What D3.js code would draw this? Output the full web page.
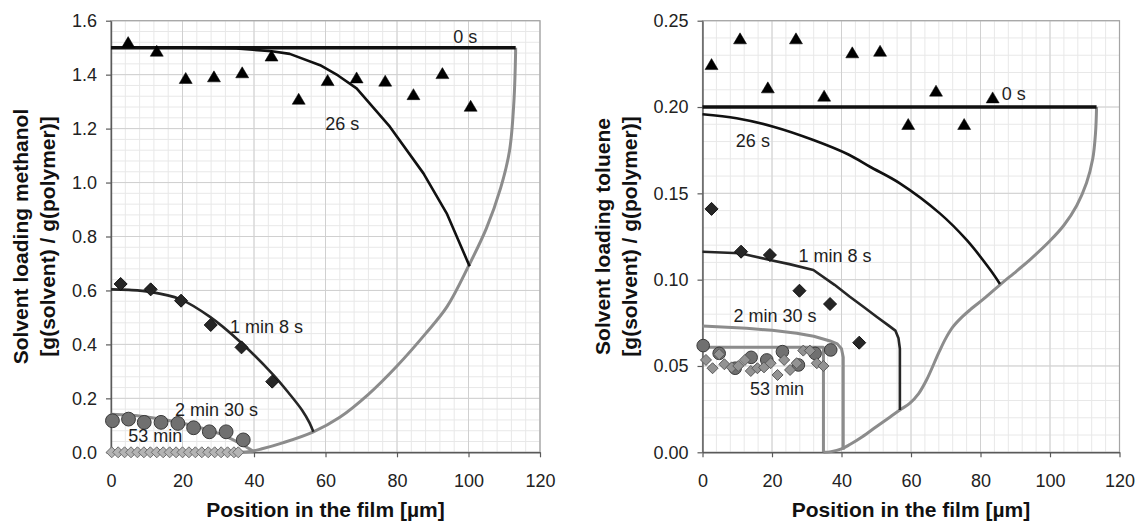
<!DOCTYPE html>
<html>
<head>
<meta charset="utf-8">
<script src="https://cdn.jsdelivr.net/npm/d3@7"></script>
<style>
  body { margin: 0; background: #fff; }
  text { font-family: "Liberation Sans", Arial, sans-serif; }
</style>
</head>
<body>
<div id="chart"></div>
<script>
// ---- data ----
var xTicks = [0, 20, 40, 60, 80, 100, 120];
var methanolYTicks = [0, 0.2, 0.4, 0.6, 0.8, 1.0, 1.2, 1.4, 1.6];
var tolueneYTicks = [0, 0.05, 0.10, 0.15, 0.20, 0.25];

// methanol (left panel)
var mTri = [[4.8, 1.517], [12.8, 1.485], [20.9, 1.384], [28.8, 1.39], [36.7, 1.405], [44.9, 1.467],
            [52.5, 1.307], [60.6, 1.376], [68.7, 1.386], [76.7, 1.374], [84.6, 1.324], [92.7, 1.402], [100.6, 1.281]];
var mDia1 = [[2.7, 0.624], [11.1, 0.604], [19.6, 0.562], [27.9, 0.472], [36.5, 0.389], [45.1, 0.262]];
var mCirc = [[0.4, 0.117], [4.9, 0.123], [9.3, 0.111], [14, 0.111], [18.7, 0.107], [23.1, 0.091],
             [27.5, 0.076], [32.2, 0.076], [37, 0.046]];
var mDia53 = [[0.2, 0], [2.0, 0], [3.8, 0], [5.6, 0], [7.4, 0], [9.2, 0], [11.0, 0], [12.8, 0], [14.6, 0],
              [16.4, 0], [18.2, 0], [20.0, 0], [21.8, 0], [23.6, 0], [25.4, 0], [27.2, 0], [29.0, 0],
              [30.8, 0], [32.6, 0], [34.4, 0], [35.6, 0]];
var m0s = [[0, 1.5], [113.2, 1.5]];
var m26s = [[0, 1.5], [20, 1.5], [35, 1.497], [45, 1.487], [50, 1.477], [58.5, 1.435], [63.5, 1.397],
            [68.7, 1.349], [78, 1.207], [87.4, 1.034], [93.9, 0.886], [100.3, 0.69]];
var m1min8 = [[0, 0.604], [5, 0.602], [10.9, 0.595], [19.3, 0.568], [27.7, 0.502], [36.1, 0.41],
              [45.4, 0.287], [50, 0.215], [53.5, 0.155], [55.5, 0.11], [56.6, 0.076]];
var m2min30 = [[0, 0.141], [5, 0.138], [10, 0.131], [15.5, 0.12], [21, 0.105], [26.7, 0.085],
               [30.5, 0.068], [34.2, 0.046], [37, 0.026], [39.8, 0.004]];
var mFront = [[36, 0], [39, 0.003], [42, 0.012], [48, 0.035], [56.6, 0.076], [64, 0.13], [72, 0.215],
              [80, 0.32], [88, 0.44], [94, 0.54], [100, 0.69], [105, 0.83], [109, 0.98], [111.5, 1.12],
              [112.7, 1.3], [113.2, 1.5]];
var mLabels = [["0 s", 95.7, 1.517], ["26 s", 59.9, 1.195], ["1 min 8 s", 33.3, 0.442],
               ["2 min 30 s", 17.9, 0.135], ["53 min", 4.8, 0.038]];

// toluene (right panel)
var tTri = [[2.6, 0.2243], [10.8, 0.2392], [18.8, 0.2108], [26.9, 0.2392], [35, 0.206], [43.1, 0.2311],
            [51.1, 0.232], [59.2, 0.1896], [67.2, 0.2089], [75.3, 0.1896], [83.5, 0.205]];
var tDia1 = [[2.6, 0.141], [11.1, 0.1162], [19.4, 0.1143], [27.9, 0.0936], [36.7, 0.0859], [45.1, 0.0635]];
var tCirc = [[0.2, 0.0618], [4.8, 0.0573], [9.4, 0.0487], [14, 0.055], [18.5, 0.0535], [23, 0.0583],
             [27.6, 0.0506], [32.4, 0.0573], [36.9, 0.0593]];
var tDia53 = [[1, 0.0535], [2.9, 0.0487], [4.8, 0.0568], [6.3, 0.051], [8.4, 0.0492], [10.3, 0.05],
              [12.2, 0.0535], [13.9, 0.0471], [15.8, 0.0487], [17.7, 0.0492], [19.6, 0.0516],
              [21.6, 0.0448], [23.5, 0.0535], [25.2, 0.0477], [27.1, 0.0516], [29, 0.0589],
              [30.9, 0.0589], [32.9, 0.0516], [34.8, 0.05]];
var t0s = [[0, 0.2], [113.4, 0.2]];
var t26s = [[0, 0.1958], [9.8, 0.1935], [20.4, 0.1886], [31.9, 0.1809], [42, 0.1725], [48.2, 0.1654],
            [56.8, 0.1558], [68.3, 0.1384], [76, 0.123], [82.7, 0.106], [85.6, 0.0975]];
var t1min8 = [[0, 0.1162], [10.8, 0.1153], [19.4, 0.1114], [25, 0.109], [31.9, 0.1056], [38, 0.097],
              [42.4, 0.0901], [46.3, 0.0843], [50.1, 0.0785], [53.5, 0.0735], [55.5, 0.0705],
              [56.4, 0.066], [56.8, 0.06], [56.8, 0.0245]];
var t2min30 = [[0, 0.0732], [12.7, 0.0718], [20, 0.0707], [27.1, 0.0689], [32, 0.0672], [36.7, 0.0645],
               [38.8, 0.0628], [40, 0.06], [40.5, 0.055], [40.5, 0.0015]];
var t53min = [[0, 0.0608], [34.8, 0.0608], [34.8, 0]];
var tFront = [[34.8, 0], [37, 0.0004], [40, 0.002], [42.4, 0.0045], [46, 0.009], [50, 0.0148],
              [54, 0.0205], [56.8, 0.0245], [59.7, 0.0285], [62.2, 0.034], [64.5, 0.042], [67.9, 0.0573],
              [70, 0.066], [72, 0.0725], [74.5, 0.078], [77, 0.0825], [81, 0.089], [85.6, 0.097],
              [90.4, 0.105], [94.2, 0.1115], [100, 0.1225], [104, 0.1315], [107.7, 0.143],
              [110.5, 0.156], [112.3, 0.17], [113.1, 0.185], [113.4, 0.2]];
var tLabels = [["0 s", 86.1, 0.204], ["26 s", 9.6, 0.177], ["1 min 8 s", 27.6, 0.1104],
               ["2 min 30 s", 8.9, 0.0757], ["53 min", 13.7, 0.0332]];

// ---- drawing ----
var svg = d3.select("#chart").append("svg")
    .attr("width", 1137)
    .attr("height", 524)
    .style("background", "#fff");

var plotTop = 20.7, plotBottom = 452.3;

// marker shapes
var triPath = "M0,-6.5L6.5,4.5L-6.5,4.5Z";
function diaPath(r) { return "M0," + (-r) + "L" + r + ",0L0," + r + "L" + (-r) + ",0Z"; }

function drawPanel(p) {
    var x = d3.scaleLinear().domain([0, 120]).range([p.left, p.right]);
    var y = d3.scaleLinear().domain([0, p.ymax]).range([plotBottom, plotTop]);
    var g = svg.append("g");

    // minor grid
    g.selectAll("line.vmin").data(d3.range(0, 121, 4)).enter().append("line")
        .attr("x1", d => x(d)).attr("x2", d => x(d)).attr("y1", plotTop).attr("y2", plotBottom)
        .attr("stroke", "#e8e8e8").attr("stroke-width", 1);
    g.selectAll("line.hmin").data(d3.range(0, p.ymax / p.yminor + 0.5, 1)).enter().append("line")
        .attr("x1", p.left).attr("x2", p.right)
        .attr("y1", d => y(d * p.yminor)).attr("y2", d => y(d * p.yminor))
        .attr("stroke", "#e8e8e8").attr("stroke-width", 1);
    // major grid
    g.selectAll("line.vmaj").data(xTicks).enter().append("line")
        .attr("x1", d => x(d)).attr("x2", d => x(d)).attr("y1", plotTop).attr("y2", plotBottom)
        .attr("stroke", "#d0d0d0").attr("stroke-width", 1);
    g.selectAll("line.hmaj").data(p.yTicks).enter().append("line")
        .attr("x1", p.left).attr("x2", p.right).attr("y1", d => y(d)).attr("y2", d => y(d))
        .attr("stroke", "#d0d0d0").attr("stroke-width", 1);

    // frame (top / right)
    g.append("rect")
        .attr("x", p.left).attr("y", plotTop)
        .attr("width", p.right - p.left).attr("height", plotBottom - plotTop)
        .attr("fill", "none").attr("stroke", "#a5a5a5").attr("stroke-width", 1.2);

    // axes (below the marks, like the original where markers sit on top)
    var yAxis = g.append("g")
        .attr("transform", "translate(" + p.left + ",0)")
        .call(d3.axisLeft(y).tickValues(p.yTicks).tickFormat(d3.format(p.fmt))
              .tickSize(5).tickSizeOuter(0).tickPadding(9));
    var xAxis = g.append("g")
        .attr("transform", "translate(0," + plotBottom + ")")
        .call(d3.axisBottom(x).tickValues(xTicks).tickSize(5).tickSizeOuter(0).tickPadding(17));
    [xAxis, yAxis].forEach(function(a) {
        a.select(".domain").attr("stroke", "#5a5a5a").attr("stroke-width", 1.4);
        a.selectAll(".tick line").attr("stroke", "#5a5a5a").attr("stroke-width", 1.2);
        a.selectAll(".tick text").attr("font-size", "18px").attr("fill", "#222")
            .attr("font-family", "'Liberation Sans', Arial, sans-serif");
    });

    var line = d3.line().x(d => x(d[0])).y(d => y(d[1]));
    var smooth = d3.line().x(d => x(d[0])).y(d => y(d[1])).curve(d3.curveCatmullRom.alpha(0.5));

    // model curves
    p.curves.forEach(function(c) {
        g.append("path")
            .datum(c.data)
            .attr("d", c.smooth ? smooth : line)
            .attr("fill", "none")
            .attr("stroke", c.color)
            .attr("stroke-width", c.width)
            .attr("stroke-linejoin", "round");
    });

    // measured points
    p.points.forEach(function(s) {
        g.selectAll(null).data(s.data).enter().append("path")
            .attr("transform", d => "translate(" + x(d[0]) + "," + y(d[1]) + ")")
            .attr("d", s.shape)
            .attr("fill", s.fill)
            .attr("stroke", s.stroke)
            .attr("stroke-width", s.sw);
    });

    // curve labels
    g.selectAll("text.lab").data(p.labels).enter().append("text")
        .attr("x", d => x(d[1])).attr("y", d => y(d[2]))
        .attr("font-size", "18px").attr("fill", "#1e1e1e")
        .text(d => d[0]);

    // axis titles
    svg.append("text")
        .attr("x", (p.left + p.right) / 2).attr("y", 517)
        .attr("text-anchor", "middle").attr("font-size", "21px").attr("font-weight", "bold")
        .attr("fill", "#111")
        .text("Position in the film [µm]");
    p.ytitle.forEach(function(t, i) {
        svg.append("text")
            .attr("transform", "translate(" + p.ytitleX[i] + "," + (plotTop + plotBottom) / 2 + ") rotate(-90)")
            .attr("text-anchor", "middle").attr("font-size", "21px").attr("font-weight", "bold")
            .attr("fill", "#111")
            .text(t);
    });
}

var black = "#111", dark = "#262626", grey = "#8c8c8c";

drawPanel({
    left: 111, right: 540, ymax: 1.6, yminor: 0.04, yTicks: methanolYTicks, fmt: ".1f",
    ytitle: ["Solvent loading methanol", "[g(solvent) / g(polymer)]"], ytitleX: [28, 55],
    curves: [
        { data: mFront, color: grey, width: 3, smooth: true },
        { data: m2min30, color: grey, width: 3, smooth: true },
        { data: m0s, color: black, width: 3.5 },
        { data: m26s, color: black, width: 2.6 },
        { data: m1min8, color: dark, width: 2.6, smooth: true }
    ],
    points: [
        { data: mDia53, shape: diaPath(5.5), fill: "#b4b4b4", stroke: "#6e6e6e", sw: 1 },
        { data: mCirc, shape: d3.symbol(d3.symbolCircle, 150)(), fill: "#707070", stroke: "#3a3a3a", sw: 1 },
        { data: mDia1, shape: diaPath(6.5), fill: "#262626", stroke: "#111", sw: 1 },
        { data: mTri, shape: triPath, fill: "#000", stroke: "#000", sw: 0.5 }
    ],
    labels: mLabels
});

drawPanel({
    left: 702.5, right: 1119.5, ymax: 0.25, yminor: 0.01, yTicks: tolueneYTicks, fmt: ".2f",
    ytitle: ["Solvent loading toluene", "[g(solvent) / g(polymer)]"], ytitleX: [610, 637],
    curves: [
        { data: tFront, color: grey, width: 3, smooth: true },
        { data: t2min30, color: grey, width: 3 },
        { data: t53min, color: grey, width: 3 },
        { data: t0s, color: black, width: 3.5 },
        { data: t26s, color: black, width: 2.6, smooth: true },
        { data: t1min8, color: dark, width: 2.6 }
    ],
    points: [
        { data: tCirc, shape: d3.symbol(d3.symbolCircle, 125)(), fill: "#707070", stroke: "#3a3a3a", sw: 1 },
        { data: tDia53, shape: diaPath(5.5), fill: "#939393", stroke: "#5a5a5a", sw: 1 },
        { data: tDia1, shape: diaPath(6.5), fill: "#262626", stroke: "#111", sw: 1 },
        { data: tTri, shape: triPath, fill: "#000", stroke: "#000", sw: 0.5 }
    ],
    labels: tLabels
});
</script>
</body>
</html>
